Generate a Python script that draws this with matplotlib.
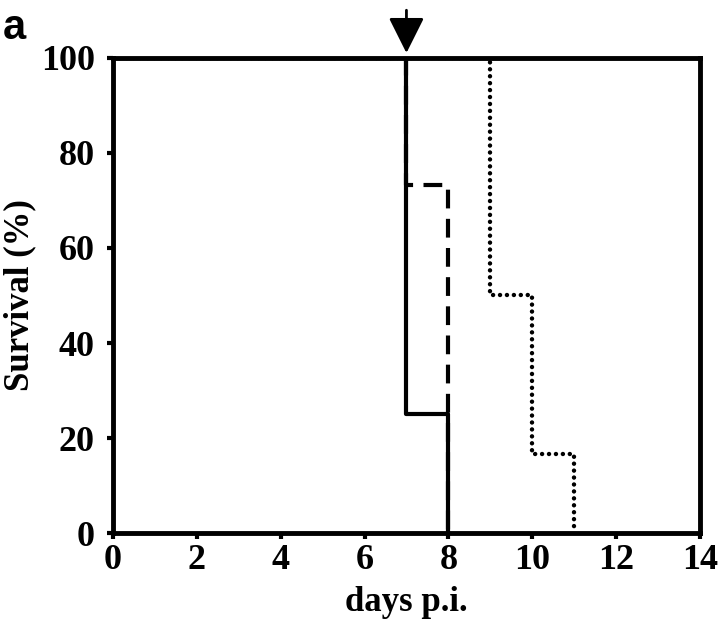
import matplotlib
matplotlib.use('Agg')
import matplotlib.pyplot as plt

# survival curves (days p.i., % survival)
days_solid = [0, 7, 8]
surv_solid = [100, 25, 0]
days_dashed = [0, 7, 8]
surv_dashed = [100, 73.3, 0]
days_dotted = [0, 9, 10, 11]
surv_dotted = [100, 50, 16.7, 0]

x_ticks = [0, 2, 4, 6, 8, 10, 12, 14]
y_ticks = [0, 20, 40, 60, 80, 100]
arrow_day = 7

plt.rcParams['font.family'] = ['Liberation Serif', 'DejaVu Serif']
plt.rcParams['font.weight'] = 'bold'

fig = plt.figure(figsize=(7.2, 6.28), dpi=100)
ax = fig.add_axes([0.157, 0.151, 0.815, 0.757])

ax.step(days_dashed, surv_dashed, where='post', color='black', lw=3,
        linestyle=(0, (4.5, 2.5)), zorder=2)
ax.step(days_dotted, surv_dotted, where='post', color='black', lw=3.2,
        linestyle=(0, (0.01, 1.55)), dash_capstyle='round', zorder=2)
ax.step(days_solid, surv_solid, where='post', color='black', lw=3, zorder=3)

ax.set_xlim(0, 14)
ax.set_ylim(0, 100)
ax.set_xticks(x_ticks)
ax.set_yticks(y_ticks)
ax.tick_params(axis='both', direction='out', length=4, width=3,
               labelsize=26)
ax.tick_params(axis='y', pad=9)
ax.tick_params(axis='x', pad=4)
for s in ax.spines.values():
    s.set_linewidth(3.5)

ax.set_xlabel('days p.i.', fontsize=25, fontweight='bold', labelpad=6)
ax.set_ylabel('Survival (%)', fontsize=25, fontweight='bold')
ax.yaxis.set_label_coords(-0.13, 0.5)

# treatment arrow
ax.annotate('', xy=(arrow_day, 101), xytext=(arrow_day, 110),
            annotation_clip=False,
            arrowprops=dict(arrowstyle='-|>,head_length=2.2,head_width=1.1',
                            color='black', lw=2, shrinkA=0, shrinkB=0))

fig.text(0.004, 0.988, 'a', fontsize=30, fontweight='bold', va='top',
         family=['Liberation Sans', 'DejaVu Sans'])

fig.savefig('out.png', dpi=100)
